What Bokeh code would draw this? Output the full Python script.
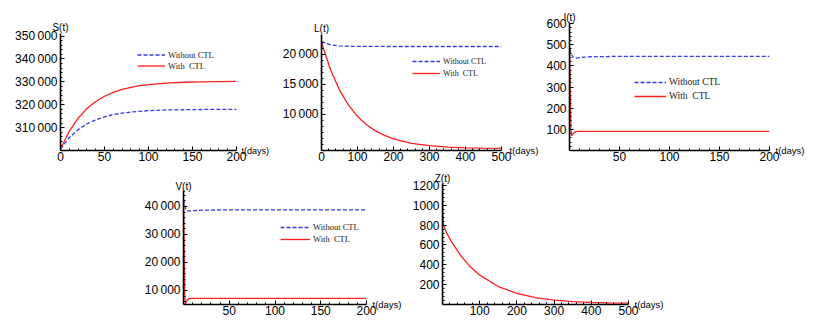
from bokeh.plotting import figure
from bokeh.layouts import row, column
from bokeh.models import (Range1d, FixedTicker, Legend, LegendItem, Spacer, LinearAxis)
from bokeh.embed import file_html
from bokeh.resources import INLINE

# ---------------- data ----------------
# S(t)
s_t = [0, 10, 20, 30, 40, 50, 60, 70, 80, 90, 100, 120, 140, 160, 180, 200]
s_without = [300700, 305600, 309100, 311600, 313400, 314700, 315700, 316300,
             316800, 317100, 317400, 317700, 317800, 317900, 318000, 318000]
s_with = [300700, 308400, 314100, 318300, 321400, 323700, 325400, 326700,
          327600, 328300, 328800, 329400, 329800, 330000, 330100, 330200]

# L(t)
l_t_without = [0, 10, 25, 50, 75, 100, 200, 300, 400, 500]
l_without = [22200, 21900, 21600, 21420, 21370, 21350, 21330, 21330, 21330, 21330]
l_t_with = [0, 25, 50, 75, 100, 125, 150, 175, 200, 250, 300, 350, 400, 450, 500]
l_with = [22000, 17450, 14070, 11560, 9680, 8300, 7270, 6510, 5940, 5200,
          4800, 4570, 4450, 4380, 4350]

# I(t)
i_t_without = [0, 1, 2, 3, 4, 5, 7, 10, 15, 20, 50, 100, 150, 200]
i_without = [480, 470, 455, 445, 440, 437, 437, 439, 441, 443, 445, 445, 445, 445]
i_t_with = [0, 0.5, 1, 1.5, 2, 3, 4, 6, 8, 50, 100, 150, 200]
i_with = [480, 350, 200, 100, 70, 75, 82, 88, 90, 90, 90, 90, 90]

# V(t)
v_t_without = [0, 1, 2, 3, 5, 8, 12, 20, 50, 100, 150, 200]
v_without = [42500, 41000, 39500, 38700, 38400, 38400, 38500, 38700, 38800,
             38800, 38800, 38800]
v_t_with = [0, 0.5, 1, 1.5, 2, 3, 4, 6, 8, 50, 100, 150, 200]
v_with = [42500, 30000, 18000, 8000, 5200, 5800, 6600, 7100, 7200, 7200,
          7200, 7200, 7200]

# Z(t)
z_t = [0, 0.5, 1, 2, 3, 10, 25, 50, 75, 100, 150, 200, 250, 300, 350, 400, 450, 500]
z_with = [1200, 1000, 900, 830, 800, 730, 628, 488, 380, 296, 181, 112, 70,
          45, 30, 22, 16, 13]

# ticks
s_xticks = [0, 50, 100, 150, 200]
s_yticks = [310000, 320000, 330000, 340000, 350000]
l_xticks = [0, 100, 200, 300, 400, 500]
l_yticks = [10000, 15000, 20000]
i_xticks = [50, 100, 150, 200]
i_yticks = [100, 200, 300, 400, 500, 600]
v_xticks = [50, 100, 150, 200]
v_yticks = [10000, 20000, 30000, 40000]
z_xticks = [100, 200, 300, 400, 500]
z_yticks = [200, 400, 600, 800, 1000, 1200]

BLUE = "#3a3ae6"
RED = "#ff1f1f"
SANS = "Liberation Sans"
SERIF = "Liberation Serif"


def fmt(v):
    if abs(v) >= 10000:
        return f"{int(v):,}".replace(",", "\u2009")
    return str(int(v))


def text_axis(p, side, tick, text, standoff, size):
    ax = LinearAxis(ticker=FixedTicker(ticks=[tick], minor_ticks=[]),
                    major_label_overrides={tick: text})
    ax.axis_line_color = None
    ax.major_tick_line_color = None
    ax.minor_tick_line_color = None
    ax.major_tick_in = 0
    ax.major_tick_out = 0
    ax.minor_tick_in = 0
    ax.minor_tick_out = 0
    ax.major_label_standoff = standoff
    ax.major_label_text_font = SANS
    ax.major_label_text_font_size = size
    ax.major_label_text_color = "black"
    p.add_layout(ax, side)


def panel(fw, fh, left, right, top, bottom, xr, yframe, ybounds,
          xticks, xminor, yticks, yminor, ylab, ydrop,
          tsize="9.5px", tstand=6):
    p = figure(frame_width=fw, frame_height=fh, output_backend="svg",
               toolbar_location=None, x_range=Range1d(*xr),
               y_range=Range1d(*yframe),
               min_border_left=left, min_border_right=right,
               min_border_top=top, min_border_bottom=bottom)
    p.title.visible = False
    p.outline_line_color = None
    p.grid.visible = False
    p.background_fill_color = "white"
    p.border_fill_color = "white"
    p.xaxis.ticker = FixedTicker(ticks=xticks, minor_ticks=xminor)
    p.yaxis.ticker = FixedTicker(ticks=yticks, minor_ticks=yminor)
    p.xaxis.major_label_overrides = {t: fmt(t) for t in xticks}
    p.yaxis.major_label_overrides = {t: fmt(t) for t in yticks}
    p.yaxis.bounds = ybounds
    for ax in (p.xaxis, p.yaxis):
        ax.axis_line_width = 1.6
        ax.axis_line_color = "black"
        ax.major_tick_in = 4
        ax.major_tick_out = 0
        ax.minor_tick_in = 2
        ax.minor_tick_out = 0
        ax.major_tick_line_color = "black"
        ax.minor_tick_line_color = "black"
        ax.major_label_text_font = SANS
        ax.major_label_text_font_size = "12px"
        ax.major_label_text_color = "black"
    p.xaxis.major_label_standoff = 1
    p.yaxis.major_label_standoff = 3
    # axis names: "S(t)" just above the top of the y axis (ydrop px below the
    # frame top), "t(days)" right of the x axis
    text_axis(p, "above", xr[0], ylab, -ydrop, "10px")
    text_axis(p, "right", yframe[0], "t(days)", tstand, tsize)
    return p


def add_legend(p, rb, rr, loc, gw, gh, fs):
    lg = Legend(items=[LegendItem(label="Without CTL", renderers=[rb]),
                       LegendItem(label="With  CTL", renderers=[rr])],
                location=loc, border_line_color=None, background_fill_alpha=0,
                padding=0, margin=0, spacing=0, glyph_width=gw, glyph_height=gh,
                label_height=gh, label_standoff=3, label_text_font=SERIF,
                label_text_font_size=fs, label_text_color="#222222")
    p.add_layout(lg)


# ---------- top row: frames share top (y=20) and bottom (y=148) ----------
# ---- S ----
p1 = panel(176, 128, 52, 34, 12, 15, (0, 200), (300000, 355900), (300000, 351000),
           s_xticks, list(range(10, 200, 10)), s_yticks,
           list(range(302000, 351000, 2000)), "S(t)", 10, tsize="9px", tstand=5)
b1 = p1.line(s_t, s_without, line_color=BLUE, line_width=1.3, line_dash="4 2")
r1 = p1.line(s_t, s_with, line_color=RED, line_width=1.3)
add_legend(p1, b1, r1, (77, 79), 28, 11, "8.5px")

# ---- L ----
p2 = panel(180, 128, 49, 41, 12, 15, (0, 500), (4000, 25330), (4000, 23300),
           l_xticks, list(range(20, 500, 20)), l_yticks,
           list(range(5000, 23000, 1000)), "L(t)", 11, tstand=8)
b2 = p2.line(l_t_without, l_without, line_color=BLUE, line_width=1.3, line_dash="4 2")
r2 = p2.line(l_t_with, l_with, line_color=RED, line_width=1.3)
add_legend(p2, b2, r2, (91, 71), 28, 12, "8px")

# ---- I ----
p3 = panel(200, 128, 27, 39, 12, 15, (0, 200), (0, 605), (0, 605),
           i_xticks, list(range(10, 200, 10)), i_yticks,
           list(range(20, 605, 20)), "I(t)", 0)
b3 = p3.line(i_t_without, i_without, line_color=BLUE, line_width=1.3, line_dash="4 2")
r3 = p3.line(i_t_with, i_with, line_color=RED, line_width=1.3)
add_legend(p3, b3, r3, (65, 47), 32, 14, "9.5px")

# ---------- bottom row: frames share top (y=181) and bottom (y=302) ----------
# ---- V ----
p4 = panel(183, 121, 43, 39, 18, 18, (0, 200), (5000, 48210), (5000, 45700),
           v_xticks, list(range(10, 200, 10)), v_yticks,
           list(range(6000, 45000, 2000)), "V(t)", 8)
b4 = p4.line(v_t_without, v_without, line_color=BLUE, line_width=1.3, line_dash="4 2")
r4 = p4.line(v_t_with, v_with, line_color=RED, line_width=1.3)
add_legend(p4, b4, r4, (97, 59), 30, 12, "8.5px")

# ---- Z ----
p5 = panel(186, 121, 37, 52, 18, 18, (0, 500), (0, 1220), (0, 1220),
           z_xticks, list(range(20, 500, 20)), z_yticks,
           list(range(40, 1220, 40)), "Z(t)", 0)
p5.line(z_t, z_with, line_color=RED, line_width=1.3)

layout = column(
    Spacer(width=806, height=8),
    row(Spacer(width=8, height=155), p1, p2, p3),
    row(Spacer(width=140, height=157), p4, p5),
)

open("out.html", "w").write(file_html(layout, INLINE))
